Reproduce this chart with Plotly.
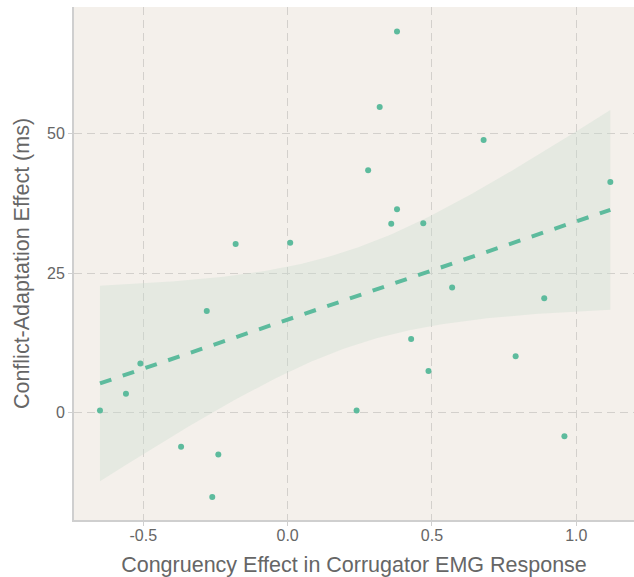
import numpy as np
import plotly.graph_objects as go

emg = [-0.650, -0.560, -0.510, -0.280, -0.369, -0.240, -0.261, 0.239,
       -0.180, 0.009, 0.379, 0.319, 0.679, 0.279, 0.379, 0.359, 0.470,
       1.118, 0.570, 0.889, 0.428, 0.790, 0.488, 0.959]
cae = [0.4, 3.4, 8.8, 18.2, -6.1, -7.5, -15.1, 0.4,
       30.2, 30.4, 68.2, 54.7, 48.8, 43.4, 36.4, 33.8, 33.9,
       41.3, 22.4, 20.5, 13.2, 10.1, 7.45, -4.2]
x_ticks = [-0.5, 0.0, 0.5, 1.0]
y_ticks = [0, 25, 50]

x = np.array(emg)
y = np.array(cae)
n = len(x)
slope, intercept = np.polyfit(x, y, 1)
xs = np.linspace(x.min(), x.max(), 100)
ys = intercept + slope * xs
resid = y - (intercept + slope * x)
s = np.sqrt(np.sum(resid ** 2) / (n - 2))
sxx = np.sum((x - x.mean()) ** 2)
se = s * np.sqrt(1 / n + (xs - x.mean()) ** 2 / sxx)
t = 2.074
upper = ys + t * se
lower = ys - t * se

green = "#5DBB9D"
fig = go.Figure()
fig.add_trace(go.Scatter(
    x=np.concatenate([xs, xs[::-1]]), y=np.concatenate([upper, lower[::-1]]),
    fill="toself", fillcolor="rgba(200,222,205,0.35)", line=dict(width=0),
    hoverinfo="skip", showlegend=False))
fig.add_trace(go.Scatter(x=xs, y=ys, mode="lines",
                         line=dict(color=green, width=4, dash="dash"),
                         showlegend=False))
fig.add_trace(go.Scatter(x=emg, y=cae, mode="markers",
                         marker=dict(color=green, size=6), showlegend=False))

axis_common = dict(
    showgrid=True, gridcolor="#D3D0CC", griddash="8px,5px", gridwidth=1.2,
    zeroline=False, showline=True, linecolor="#CFCFCF", linewidth=2,
    ticks="outside", ticklen=4, tickcolor="#CFCFCF",
    tickfont=dict(family="Liberation Sans, Arial", size=16, color="#666666"),
)
fig.update_layout(
    width=634, height=577,
    margin=dict(l=74, r=0, t=7, b=57),
    paper_bgcolor="white", plot_bgcolor="#F4F0EB",
    font=dict(family="Liberation Sans, Arial", color="#666666"),
    xaxis=dict(axis_common, range=[-0.74, 1.20], tickvals=x_ticks,
               ticktext=["-0.5", "0.0", "0.5", "1.0"], ticklabelstandoff=-4,
               title=dict(text="Congruency Effect in Corrugator EMG Response",
                          font=dict(size=21.5, color="#666666"), standoff=15)),
    yaxis=dict(axis_common, range=[-19.2, 72.6], tickvals=y_ticks,
               title=dict(text="Conflict-Adaptation Effect (ms)",
                          font=dict(size=21.5, color="#666666"), standoff=11)),
)
fig.write_html(
    "out.html",
    config={"displayModeBar": False},
    post_script="document.body.style.margin='0';document.body.style.overflow='hidden';",
)
